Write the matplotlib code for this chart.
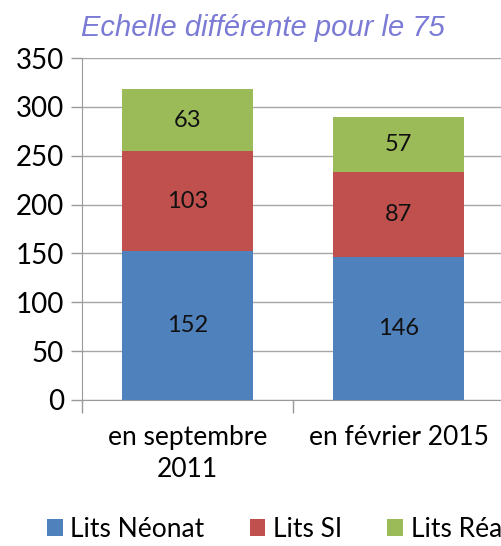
import matplotlib
matplotlib.use("Agg")
import matplotlib.pyplot as plt
import numpy as np

categories = ["en septembre\n2011", "en février 2015"]
series_names = ["Lits Néonat", "Lits SI", "Lits Réa"]
neonat = [152, 146]
si = [103, 87]
rea = [63, 57]
colors = ["#4f81bd", "#c0504d", "#9bbb59"]
yticks = [0, 50, 100, 150, 200, 250, 300, 350]

plt.rcParams["font.family"] = ["Lato", "DejaVu Sans"]

fig = plt.figure(figsize=(5.01, 5.46), dpi=100)
ax = fig.add_axes([82 / 501, 146 / 546, 422 / 501, 342 / 546])

x = np.arange(len(categories))
bottom = np.zeros(len(categories))
for vals, col, name in zip([neonat, si, rea], colors, series_names):
    bars = ax.bar(x, vals, 0.62, bottom=bottom, color=col, label=name, zorder=3)
    for b, v, b0 in zip(bars, vals, bottom):
        ax.text(b.get_x() + b.get_width() / 2, b0 + v / 2, str(v),
                ha="center", va="center", fontsize=17, color="#111111", zorder=4)
    bottom = bottom + np.array(vals)

ax.set_xlim(-0.5, 1.5)
ax.set_ylim(0, 350)
ax.set_yticks(yticks)
ax.tick_params(axis="y", labelsize=20, length=8, width=1, color="#999999", pad=5)
ax.grid(axis="y", color="#a6a6a6", linewidth=1, zorder=0)
for s in ["top", "right"]:
    ax.spines[s].set_visible(False)
ax.spines["left"].set_color("#999999")
ax.spines["bottom"].set_color("#999999")
ax.set_xticks([-0.5, 0.5, 1.5])
ax.set_xticklabels([])
ax.tick_params(axis="x", length=9, color="#999999", width=1)
for xi, lab in zip(x, categories):
    ax.text(xi, -26, lab, ha="center", va="top", fontsize=19,
            linespacing=1.35, transform=ax.transData)

fig.text(0.525, 0.948, "Echelle différente pour le 75", ha="center", va="center",
         fontsize=21, style="italic", color="#7b7bd6", family="Liberation Sans")

handles, labels = ax.get_legend_handles_labels()
fig.legend(handles, labels, loc="center", bbox_to_anchor=(0.548, 0.03), ncol=3,
           frameon=False, fontsize=19, handlelength=0.6, handleheight=0.6,
           handletextpad=0.3, columnspacing=1.7)

fig.savefig("out.png", dpi=100)
